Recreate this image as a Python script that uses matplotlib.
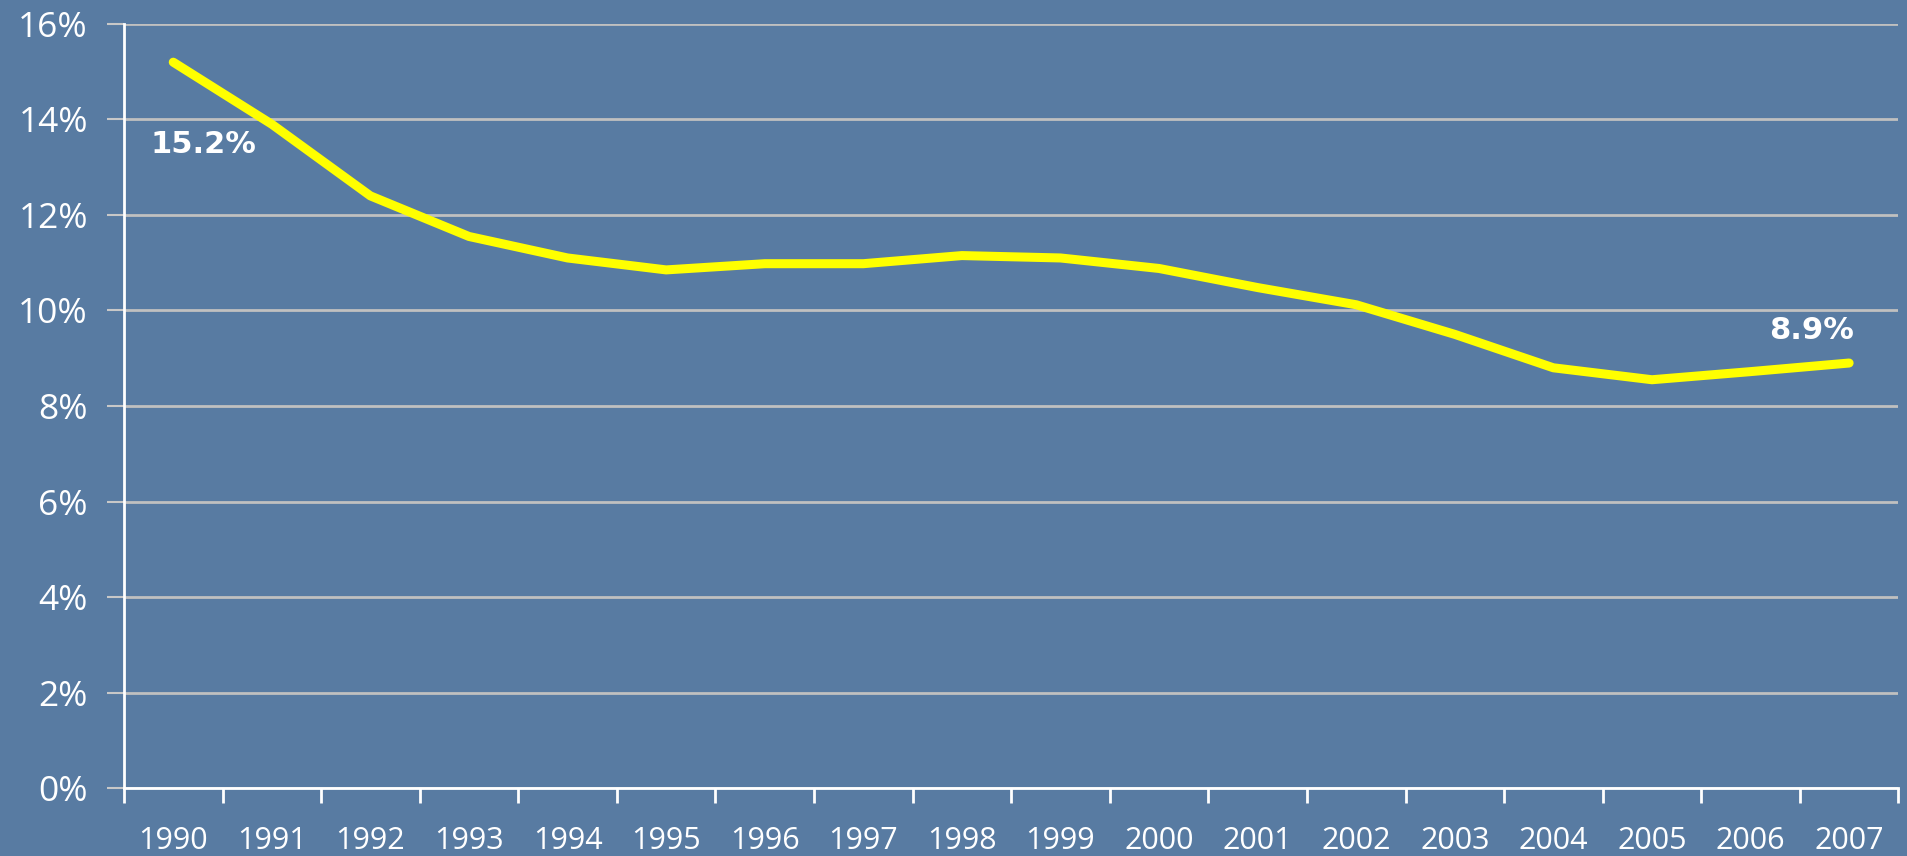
import matplotlib
matplotlib.use("Agg")
from matplotlib import pyplot as plt
from matplotlib.ticker import FixedLocator, FuncFormatter

years = [str(y) for y in range(1990, 2008)]
share = [15.2, 13.9, 12.4, 11.55, 11.1, 10.85, 10.98, 10.98, 11.15, 11.1,
         10.88, 10.48, 10.12, 9.5, 8.8, 8.55, 8.72, 8.9]
y_ticks = [0, 2, 4, 6, 8, 10, 12, 14, 16]

plt.rcParams["font.family"] = ["Open Sans", "DejaVu Sans"]

bg = "#587ba2"
fig = plt.figure(figsize=(19.07, 8.56), dpi=100, facecolor=bg)
ax = fig.add_axes([0.065, 0.0794, 0.9305, 0.8926])
ax.set_facecolor(bg)

x = list(range(len(years)))
ax.plot(x, share, color="#ffff00", lw=6.5, solid_capstyle="round",
        solid_joinstyle="round", zorder=3)

ax.set_xlim(-0.5, len(years) - 0.5)
ax.set_ylim(0, 16)

# category axis: labels in the middle, ticks on the boundaries
ax.set_xticks(x)
ax.set_xticklabels(years)
ax.xaxis.set_minor_locator(FixedLocator([i - 0.5 for i in range(len(years) + 1)]))
ax.tick_params(axis="x", which="major", length=0, pad=27, labelsize=22,
               labelcolor="white")
ax.tick_params(axis="x", which="minor", length=11, width=2, color="white")

ax.set_yticks(y_ticks)
ax.yaxis.set_major_formatter(FuncFormatter(lambda v, p: f"{v:.0f}%"))
ax.tick_params(axis="y", length=12, width=1.5, color="#c8c8c8", pad=14,
               labelsize=25.5, labelcolor="white")

ax.grid(axis="y", color="#c0c0c0", lw=2, zorder=1)
for side in ("top", "right"):
    ax.spines[side].set_visible(False)
for side in ("left", "bottom"):
    ax.spines[side].set_color("white")
    ax.spines[side].set_linewidth(2)
    ax.spines[side].set_zorder(2)

ax.annotate(f"{share[0]:.1f}%", (x[0], share[0]), xytext=(30, -82),
            textcoords="offset pixels", ha="center", va="center",
            color="white", fontsize=22, fontweight="bold", family="DejaVu Sans")
ax.annotate(f"{share[-1]:.1f}%", (x[-1], share[-1]), xytext=(-38, 33),
            textcoords="offset pixels", ha="center", va="center",
            color="white", fontsize=22, fontweight="bold", family="DejaVu Sans")

plt.savefig("out.png", dpi=100, facecolor=bg)
